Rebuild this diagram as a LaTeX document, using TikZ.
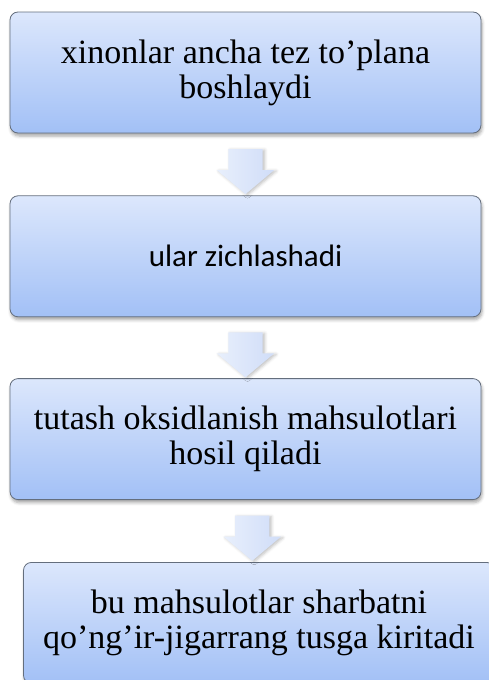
\documentclass[tikz,border=0pt]{standalone}
\usepackage{fontspec}
\setmainfont{Liberation Serif}
\newfontfamily\calibrifont{Carlito}
\usepackage{xcolor}
\definecolor{boxtop}{RGB}{220,231,252}
\definecolor{boxbot}{RGB}{162,192,246}
\definecolor{boxline}{RGB}{100,110,125}
\definecolor{arrtop}{RGB}{232,239,252}
\definecolor{arrbot}{RGB}{208,221,248}
\usepackage{tikz}
\usetikzlibrary{
    calc,
    positioning,
    shapes.arrows,
    shadows.blur
}
\tikzset{
    stepbox/.style   = {rectangle, draw=boxline, line width=0.8pt,
                        rounded corners=8pt, top color=boxtop, bottom color=boxbot,
                        minimum width=471pt, minimum height=121pt,
                        align=center, inner sep=2pt,
                        blur shadow={shadow xshift=1pt, shadow yshift=-3pt,
                                     shadow blur radius=3pt, shadow opacity=35}},
    downarrow/.style = {single arrow, draw=none, rotate=-90,
                        left color=arrtop, right color=arrbot,
                        minimum height=45pt, inner xsep=0pt, inner ysep=17pt,
                        single arrow head extend=11.5pt,
                        single arrow tip angle=100,
                        blur shadow={shadow xshift=2pt, shadow yshift=-1pt,
                                     shadow blur radius=3pt, shadow opacity=25}}
}

\begin{document}
\begin{tikzpicture}[
    node distance = 62pt,
    every node/.append style = {font=\fontsize{34}{35}\selectfont},
    sansline/.style = {font=\calibrifont\fontsize{31}{37}\selectfont}
]
\useasboundingbox (0,0) rectangle (488pt,-680pt);

% ===== Steps =====
\node[stepbox] (b1) at (245.5pt,-72.5pt)
   {xinonlar ancha tez to’plana\\boshlaydi};
\node[stepbox, sansline, below=62pt of b1] (b2)
   {ular zichlashadi};
\node[stepbox, below=61pt of b2] (b3)
   {tutash oksidlanish mahsulotlari\\hosil qiladi};
\node[stepbox, below=62pt of b3, xshift=13.5pt] (b4)
   {bu mahsulotlar sharbatni\\qo’ng’ir-jigarrang tusga kiritadi};

% ===== Block arrows between steps =====
\path (b1.south) -- (b2.north) node[downarrow, midway] (a1) {};
\path (b2.south) -- (b3.north) node[downarrow, midway] (a2) {};
\path (b3.south) -- (b4.north) node[downarrow, midway] (a3) {};

\end{tikzpicture}
\end{document}
